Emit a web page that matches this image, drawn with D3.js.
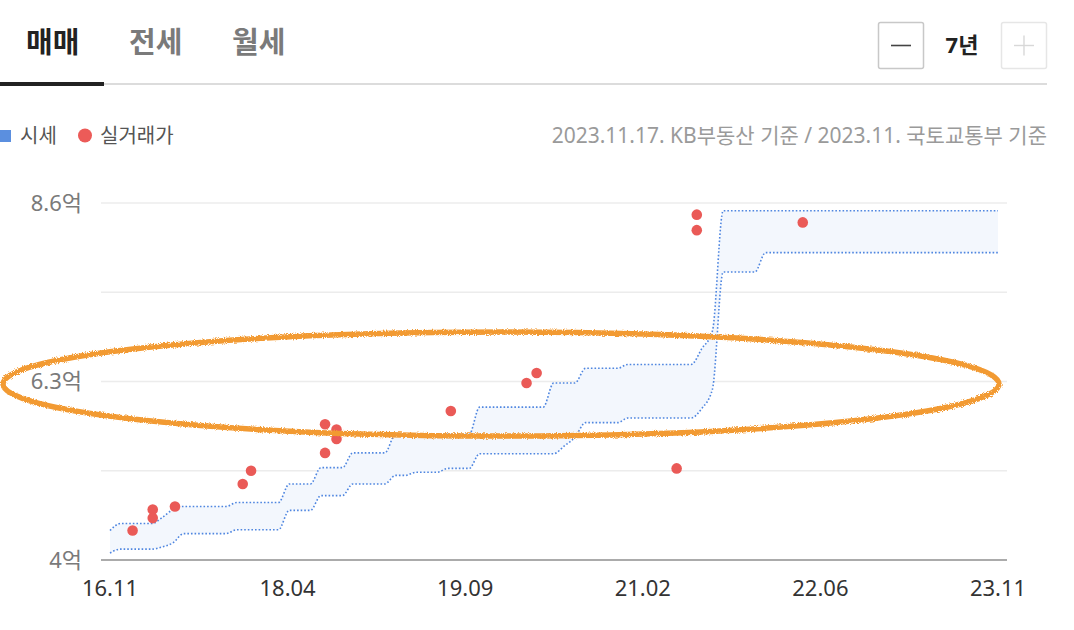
<!DOCTYPE html>
<html lang="ko">
<head>
<meta charset="utf-8">
<script src="https://cdn.jsdelivr.net/npm/d3@7"></script>
<style>
  html, body { margin: 0; padding: 0; background: #fff; }
  svg { display: block; font-family: "Noto Sans", "Noto Sans CJK KR", sans-serif; }
</style>
</head>
<body>
<svg id="chart"></svg>
<script>
// 시세 밴드 (월별 상한/하한, 억) - 2016.11 ~ 2023.11
const bandStart = "2016-11-21";
const bandUpper = [
  4.38, 4.47, 4.47, 4.47, 4.47, 4.55, 4.65, 4.69, 4.69, 4.69, 4.69, 4.69,
  4.74, 4.74, 4.74, 4.74, 4.74, 4.98, 4.98, 4.98, 5.19, 5.19, 5.19, 5.38,
  5.38, 5.38, 5.38, 5.62, 5.62, 5.62, 5.62, 5.62, 5.62, 5.62, 5.62, 5.97,
  5.97, 5.97, 5.97, 5.97, 5.97, 5.97, 6.28, 6.28, 6.28, 6.47, 6.47, 6.47,
  6.47, 6.52, 6.52, 6.52, 6.52, 6.52, 6.52, 6.52, 6.72, 6.95, 8.50, 8.50,
  8.50, 8.50, 8.50, 8.50, 8.50, 8.50, 8.50, 8.50, 8.50, 8.50, 8.50, 8.50,
  8.50, 8.50, 8.50, 8.50, 8.50, 8.50, 8.50, 8.50, 8.50, 8.50, 8.50, 8.50,
  8.50
];
const bandLower = [
  4.09, 4.14, 4.14, 4.14, 4.14, 4.17, 4.22, 4.34, 4.34, 4.34, 4.34, 4.34,
  4.39, 4.39, 4.39, 4.39, 4.39, 4.64, 4.64, 4.64, 4.83, 4.83, 4.83, 4.98,
  4.98, 4.98, 4.98, 5.09, 5.09, 5.13, 5.13, 5.13, 5.18, 5.18, 5.18, 5.37,
  5.37, 5.37, 5.37, 5.37, 5.37, 5.37, 5.37, 5.47, 5.58, 5.77, 5.77, 5.77,
  5.77, 5.83, 5.83, 5.83, 5.83, 5.83, 5.83, 5.83, 5.95, 6.20, 7.71, 7.71,
  7.71, 7.71, 7.96, 7.96, 7.96, 7.96, 7.96, 7.96, 7.96, 7.96, 7.96, 7.96,
  7.96, 7.96, 7.96, 7.96, 7.96, 7.96, 7.96, 7.96, 7.96, 7.96, 7.96, 7.96,
  7.96
];

// 실거래가
const tradeDates = [
  "2017-01-25", "2017-03-24", "2017-03-24", "2017-05-27", "2017-12-08",
  "2018-01-01", "2018-08-02", "2018-09-04", "2018-09-04", "2018-08-02",
  "2019-07-30", "2020-03-04", "2020-04-02", "2021-05-10", "2021-07-07",
  "2021-07-07", "2022-05-08"
];
const tradePrices = [
  4.38, 4.65, 4.54, 4.69, 4.98,
  5.15, 5.75, 5.68, 5.56, 5.38,
  5.92, 6.28, 6.41, 5.18, 8.45,
  8.25, 8.35
];

const xDomain = ["2016-11-21", "2023-11-21"];
const xTickLabels = ["16.11", "18.04", "19.09", "21.02", "22.06", "23.11"];
const yTicks = [4, 5.15, 6.3, 7.45, 8.6];
const yTickLabels = ["4억", "", "6.3억", "", "8.6억"];

const tabs = ["매매", "전세", "월세"];
const sourceNote = "2023.11.17. KB부동산 기준 / 2023.11. 국토교통부 기준";

const W = 1074, H = 630;
const parse = d3.timeParse("%Y-%m-%d");

const svg = d3.select("#chart").attr("width", W).attr("height", H);

const defs = svg.append("defs");
const f = defs.append("filter").attr("id", "rough")
  .attr("x", "-5%").attr("y", "-20%").attr("width", "110%").attr("height", "140%");
f.append("feTurbulence").attr("type", "fractalNoise").attr("baseFrequency", 1.1)
  .attr("numOctaves", 2).attr("seed", 3).attr("result", "noise");
f.append("feDisplacementMap").attr("in", "SourceGraphic").attr("in2", "noise")
  .attr("scale", 4);

// 상단 탭
const tabX = [26, 129, 232];
svg.selectAll("text.tab")
  .data(tabs)
  .enter().append("text")
  .attr("class", "tab")
  .attr("x", (d, i) => tabX[i])
  .attr("y", 53)
  .attr("font-size", 29)
  .attr("font-weight", 700)
  .attr("fill", (d, i) => i === 0 ? "#222" : "#7a7a7a")
  .text(d => d);

svg.append("rect").attr("x", 104).attr("y", 83).attr("width", 943).attr("height", 2).attr("fill", "#dcdcdc");
svg.append("rect").attr("x", 0).attr("y", 82).attr("width", 104).attr("height", 4).attr("fill", "#222");

// 기간 버튼
svg.append("rect").attr("x", 878.5).attr("y", 22.5).attr("width", 45).attr("height", 46)
  .attr("rx", 2).attr("fill", "#fff").attr("stroke", "#c8c8c8").attr("stroke-width", 1.5);
svg.append("line").attr("x1", 891).attr("x2", 911).attr("y1", 45.5).attr("y2", 45.5)
  .attr("stroke", "#444").attr("stroke-width", 1.6);
svg.append("text").attr("x", 962).attr("y", 53).attr("text-anchor", "middle")
  .attr("font-size", 22).attr("font-weight", 700).attr("fill", "#222").text("7년");
svg.append("rect").attr("x", 1001.5).attr("y", 22.5).attr("width", 45).attr("height", 46)
  .attr("rx", 2).attr("fill", "#fff").attr("stroke", "#e6e6e6").attr("stroke-width", 1.5);
svg.append("line").attr("x1", 1014).attr("x2", 1034).attr("y1", 45.5).attr("y2", 45.5)
  .attr("stroke", "#d8d8d8").attr("stroke-width", 1.4);
svg.append("line").attr("x1", 1024).attr("x2", 1024).attr("y1", 35.5).attr("y2", 55.5)
  .attr("stroke", "#d8d8d8").attr("stroke-width", 1.4);

// 범례
svg.append("rect").attr("x", -1).attr("y", 130).attr("width", 12).attr("height", 12).attr("fill", "#5b8fdf");
svg.append("text").attr("x", 20).attr("y", 143).attr("font-size", 20).attr("fill", "#555").text("시세");
svg.append("circle").attr("cx", 85).attr("cy", 135.5).attr("r", 7).attr("fill", "#ec5b58");
svg.append("text").attr("x", 100).attr("y", 143).attr("font-size", 20).attr("fill", "#555").text("실거래가");
svg.append("text").attr("x", 1047).attr("y", 143).attr("text-anchor", "end")
  .attr("font-size", 21).attr("fill", "#9a9a9a").text(sourceNote);

// 스케일
const d0 = parse(xDomain[0]), d1 = parse(xDomain[1]);
const x = d3.scaleTime().domain([d0, d1]).range([110, 998]);
const y = d3.scaleLinear().domain([4, 8.6]).range([560, 203]);
const plotLeft = 101, plotRight = 1007;

// 격자
svg.append("g").selectAll("line")
  .data(yTicks.slice(1))
  .enter().append("line")
  .attr("x1", plotLeft).attr("x2", plotRight)
  .attr("y1", d => y(d)).attr("y2", d => y(d))
  .attr("stroke", "#ececec").attr("stroke-width", 1.6);

svg.append("line").attr("x1", plotLeft).attr("x2", plotRight)
  .attr("y1", y(4)).attr("y2", y(4))
  .attr("stroke", "#ababab").attr("stroke-width", 2);

svg.append("g").selectAll("text")
  .data(yTicks)
  .enter().append("text")
  .attr("x", 82).attr("y", d => y(d)).attr("dy", "0.36em")
  .attr("text-anchor", "end").attr("font-size", 22).attr("fill", "#7a7a7a")
  .text((d, i) => yTickLabels[i]);

svg.append("g").selectAll("text")
  .data(xTickLabels)
  .enter().append("text")
  .attr("x", (d, i) => x(new Date(+d0 + (d1 - d0) * i / (xTickLabels.length - 1))))
  .attr("y", 596).attr("text-anchor", "middle")
  .attr("font-size", 22).attr("fill", "#333")
  .text(d => d);

// 시세 밴드
const s0 = parse(bandStart);
const band = bandUpper.map((u, i) => ({ date: d3.timeMonth.offset(s0, i), hi: u, lo: bandLower[i] }));

svg.append("path")
  .datum(band)
  .attr("fill", "#f3f7fd")
  .attr("d", d3.area().curve(d3.curveMonotoneX)
    .x(d => x(d.date)).y0(d => y(d.lo)).y1(d => y(d.hi)));

["hi", "lo"].forEach(k => {
  svg.append("path")
    .datum(band)
    .attr("fill", "none")
    .attr("stroke", "#4f86e0")
    .attr("stroke-width", 1.6)
    .attr("stroke-dasharray", "1.6 2")
    .attr("d", d3.line().curve(d3.curveMonotoneX).x(d => x(d.date)).y(d => y(d[k])));
});

// 실거래가 점
svg.append("g").selectAll("circle")
  .data(tradeDates.map((d, i) => ({ date: parse(d), v: tradePrices[i] })))
  .enter().append("circle")
  .attr("cx", d => x(d.date))
  .attr("cy", d => y(d.v))
  .attr("r", 5.3)
  .attr("fill", "#ea5a57");

// 주석 타원
svg.append("ellipse")
  .attr("cx", 501).attr("cy", 384).attr("rx", 498).attr("ry", 52)
  .attr("fill", "none")
  .attr("stroke", "#f29a33")
  .attr("stroke-width", 5.5)
  .attr("filter", "url(#rough)");
</script>
</body>
</html>
